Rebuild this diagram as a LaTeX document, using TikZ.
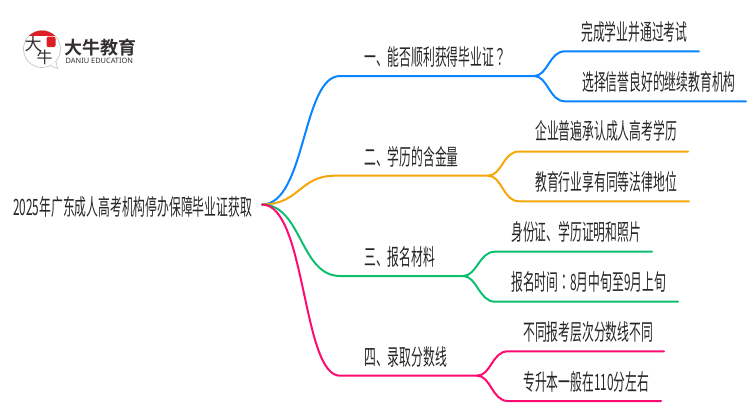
\documentclass[tikz,border=0pt]{standalone}
\usepackage{fontspec}
\usepackage{tikz}
\newfontfamily\cjk[FakeStretch=0.525]{Noto Sans CJK SC}
\newfontfamily\cjkmark[FakeStretch=0.525]{Noto Sans CJK TC}
\newfontfamily\cjklogo[BoldFont=Noto Sans CJK SC Bold]{Noto Sans CJK SC}
\newfontfamily\latinlogo{Noto Sans}
\definecolor{wireblue}{RGB}{10,132,255}
\definecolor{wireorange}{RGB}{245,167,10}
\definecolor{wiregreen}{RGB}{13,191,110}
\definecolor{wirepink}{RGB}{255,10,110}
\definecolor{logored}{RGB}{222,32,38}
\definecolor{logodark}{RGB}{51,47,47}
\newcommand{\punc}[1]{{\cjkmark #1}}
\tikzstyle{lbl} = [anchor=west, inner sep=0pt, text=black!85, font=\cjk\fontsize{22.5}{22.5}\selectfont]
\tikzstyle{trunk} = [line width=2pt, line cap=round]
\tikzstyle{twig} = [line width=2pt, line cap=round]
\begin{document}
\begin{tikzpicture}[x=1pt,y=-1pt]
\useasboundingbox (0,0) rectangle (750,410);
% logo
\fill[white, draw=black!25, line width=.6pt] (42,49) circle (18.5);
\fill[white, draw=black!25, line width=.6pt] (50,65.5) -- (57.5,68.5) -- (56,61.5);
\begin{scope}
\clip (42,49) circle (18.5);
\fill[logored] (22,30) rectangle (62,35.5);
\end{scope}
\fill[logored, rounded corners=1.5pt] (46.5,36.5) rectangle (55.5,47);
\node (logoda) at (33,44.5) [inner sep=0pt, text=logodark, font=\cjklogo\fontsize{17}{17}\selectfont] {大};
\node (logoniu) at (44.5,57.5) [inner sep=0pt, text=logodark, font=\cjklogo\fontsize{16}{16}\selectfont] {牛};
\node (logoname) at (64,47.5) [anchor=west, inner sep=0pt, text=logodark, font=\cjklogo\bfseries\fontsize{18}{18}\selectfont] {大牛教育};
\node (logoeng) at (65.5,60.5) [anchor=west, inner sep=0pt, text=logodark, font=\latinlogo\fontsize{7.4}{7.4}\selectfont] {DANIU EDUCATION};
% labels
\node (root) at (13,207) [lbl] {2025年广东成人高考机构停办保障毕业证获取};
\node (one) at (364,57) [lbl] {一、能否顺利获得毕业证\punc{？}};
\node (two) at (364,157) [lbl] {二、学历的含金量};
\node (three) at (364,257) [lbl] {三、报名材料};
\node (four) at (364,357) [lbl] {四、录取分数线};
\node (onea) at (581,32) [lbl] {完成学业并通过考试};
\node (oneb) at (582,82) [lbl] {选择信誉良好的继续教育机构};
\node (twoa) at (535,131) [lbl] {企业普遍承认成人高考学历};
\node (twob) at (535,182) [lbl] {教育行业享有同等法律地位};
\node (threea) at (511,232) [lbl] {身份证、学历证明和照片};
\node (threeb) at (511,282) [lbl] {报名时间\punc{：}8月中旬至9月上旬};
\node (foura) at (523,332) [lbl] {不同报考层次分数线不同};
\node (fourb) at (523,382) [lbl] {专升本一般在110分左右};
% connector ends
\coordinate (hub) at (262,204.5);
\coordinate (oneknee) at (340,76);
\coordinate (onefork) at (534,76);
\coordinate (oneabend) at (565,51.3);
\coordinate (oneaend) at (699,51.3);
\coordinate (onebbend) at (565,101.3);
\coordinate (onebend) at (746,101.3);
\coordinate (twoknee) at (335,175.7);
\coordinate (twofork) at (488,175.7);
\coordinate (twoabend) at (519,151.5);
\coordinate (twoaend) at (688,151.5);
\coordinate (twobbend) at (519,201.3);
\coordinate (twobend) at (689,201.3);
\coordinate (threeknee) at (340,276);
\coordinate (threefork) at (463,276);
\coordinate (threeabend) at (495,251.7);
\coordinate (threeaend) at (652,251.7);
\coordinate (threebbend) at (495,301.7);
\coordinate (threebend) at (678,301.7);
\coordinate (fourknee) at (340,375.7);
\coordinate (fourfork) at (477,375.7);
\coordinate (fourabend) at (508,351.3);
\coordinate (fouraend) at (664,351.3);
\coordinate (fourbbend) at (508,401);
\coordinate (fourbend) at (661,401);
% connectors
\draw[trunk, wireblue] (hub) .. controls +(44,0) and +(-38,0) .. (oneknee) -- (onefork);
\draw[twig, wireblue] (onefork) .. controls +(14,0) and +(-16,0) .. (oneabend) -- (oneaend);
\draw[twig, wireblue] (onefork) .. controls +(14,0) and +(-16,0) .. (onebbend) -- (onebend);
\draw[trunk, wireorange] (hub) .. controls +(38,0) and +(-36,0) .. (twoknee) -- (twofork);
\draw[twig, wireorange] (twofork) .. controls +(14,0) and +(-16,0) .. (twoabend) -- (twoaend);
\draw[twig, wireorange] (twofork) .. controls +(14,0) and +(-16,0) .. (twobbend) -- (twobend);
\draw[trunk, wiregreen] (hub) .. controls +(40,0) and +(-40,0) .. (threeknee) -- (threefork);
\draw[twig, wiregreen] (threefork) .. controls +(14,0) and +(-16,0) .. (threeabend) -- (threeaend);
\draw[twig, wiregreen] (threefork) .. controls +(14,0) and +(-16,0) .. (threebbend) -- (threebend);
\draw[trunk, wirepink] (hub) .. controls +(44,0) and +(-38,0) .. (fourknee) -- (fourfork);
\draw[twig, wirepink] (fourfork) .. controls +(14,0) and +(-16,0) .. (fourabend) -- (fouraend);
\draw[twig, wirepink] (fourfork) .. controls +(14,0) and +(-16,0) .. (fourbbend) -- (fourbend);
\end{tikzpicture}
\end{document}
